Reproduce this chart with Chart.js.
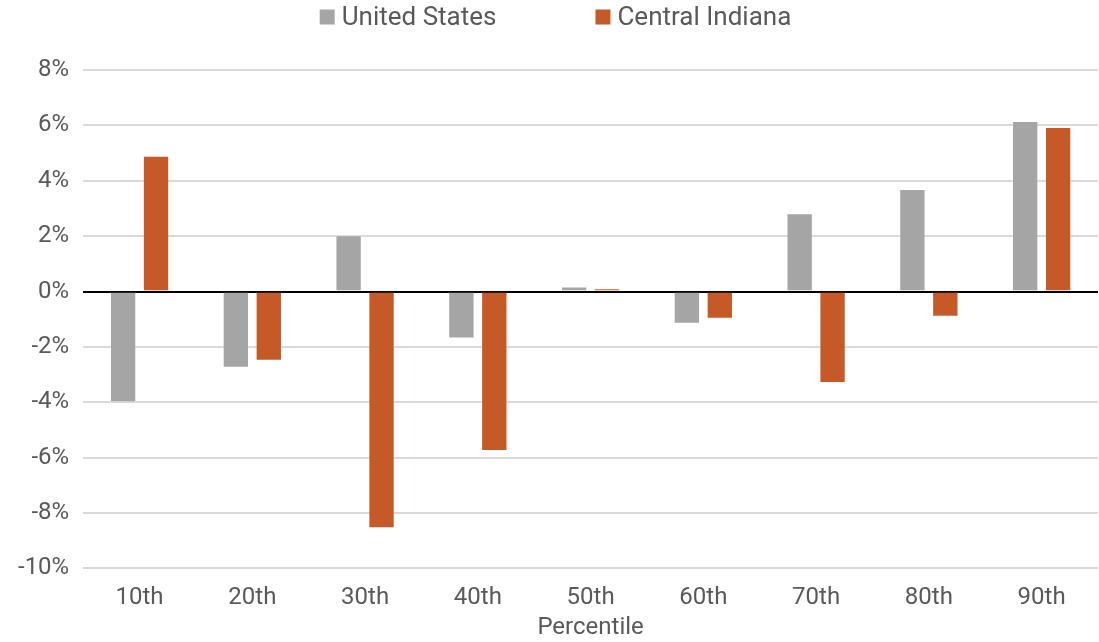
<!DOCTYPE html>
<html>
<head>
<meta charset="utf-8">
<script src="https://cdn.jsdelivr.net/npm/chart.js@4"></script>
<style>
  html, body { margin: 0; padding: 0; background: #fff; }
  #wrap { width: 1099px; height: 642px; }
</style>
</head>
<body>
<div id="wrap"><canvas id="myChart" width="1099" height="642"></canvas></div>
<script>
  const percentiles = ['10th', '20th', '30th', '40th', '50th', '60th', '70th', '80th', '90th'];
  const unitedStates = [-4.0, -2.75, 2.03, -1.7, 0.18, -1.16, 2.83, 3.7, 6.16];
  const centralIndiana = [4.9, -2.5, -8.55, -5.76, 0.12, -0.98, -3.3, -0.91, 5.94];
  const yTicks = [-10, -8, -6, -4, -2, 0, 2, 4, 6, 8];

  const fontFamily = 'Roboto, sans-serif';
  const fontSize = 24;
  const textColor = '#595959';

  // legend drawn on the canvas with wide spacing between the two items
  const wideLegend = {
    id: 'wideLegend',
    afterDraw(chart) {
      const ctx = chart.ctx;
      const items = chart.data.datasets.map(ds => ({ text: ds.label, color: ds.backgroundColor }));
      const box = 15, gapText = 7, gapItems = 99, y = 17;
      ctx.save();
      ctx.font = '26px ' + fontFamily;
      ctx.textBaseline = 'middle';
      let total = 0;
      items.forEach((it, i) => {
        total += box + gapText + ctx.measureText(it.text).width + (i < items.length - 1 ? gapItems : 0);
      });
      let x = chart.width / 2 + 6 - total / 2;
      items.forEach(it => {
        ctx.fillStyle = it.color;
        ctx.fillRect(x, y - box / 2, box, box);
        x += box + gapText;
        ctx.fillStyle = textColor;
        ctx.fillText(it.text, x, y + 1);
        x += ctx.measureText(it.text).width + gapItems;
      });
      ctx.restore();
    }
  };

  const config = {
    type: 'bar',
    data: {
      labels: percentiles,
      datasets: [{
        label: 'United States',
        data: unitedStates,
        backgroundColor: '#a5a5a5',
        borderColor: 'rgba(255,255,255,0.25)',
        borderWidth: 1,
        categoryPercentage: 0.584,
        barPercentage: 0.8
      }, {
        label: 'Central Indiana',
        data: centralIndiana,
        backgroundColor: '#c55a28',
        borderColor: 'rgba(255,255,255,0.25)',
        borderWidth: 1,
        categoryPercentage: 0.584,
        barPercentage: 0.8
      }]
    },
    options: {
      animation: false,
      responsive: false,
      layout: { padding: { left: 4, right: 1, top: 70, bottom: 0 } },
      plugins: {
        legend: { display: false },
        tooltip: { enabled: false }
      },
      scales: {
        x: {
          grid: { display: false, drawTicks: false },
          border: { display: false },
          ticks: {
            color: textColor,
            font: { family: fontFamily, size: fontSize },
            padding: 15
          },
          title: {
            display: true,
            text: 'Percentile',
            color: textColor,
            font: { family: fontFamily, size: fontSize },
            padding: { top: -14, bottom: 0 }
          }
        },
        y: {
          min: -10,
          max: 8,
          afterBuildTicks(axis) {
            axis.ticks = yTicks.map(v => ({ value: v }));
          },
          grid: {
            drawTicks: false,
            lineWidth: 2,
            color: ctx => ctx.tick && ctx.tick.value === 0 ? '#000000' : '#d9d9d9'
          },
          border: { display: false },
          ticks: {
            color: textColor,
            font: { family: fontFamily, size: fontSize },
            padding: 14,
            callback: v => v + '%'
          }
        }
      }
    },
    plugins: [wideLegend]
  };

  const myChart = new Chart(document.getElementById('myChart'), config);
</script>
</body>
</html>
